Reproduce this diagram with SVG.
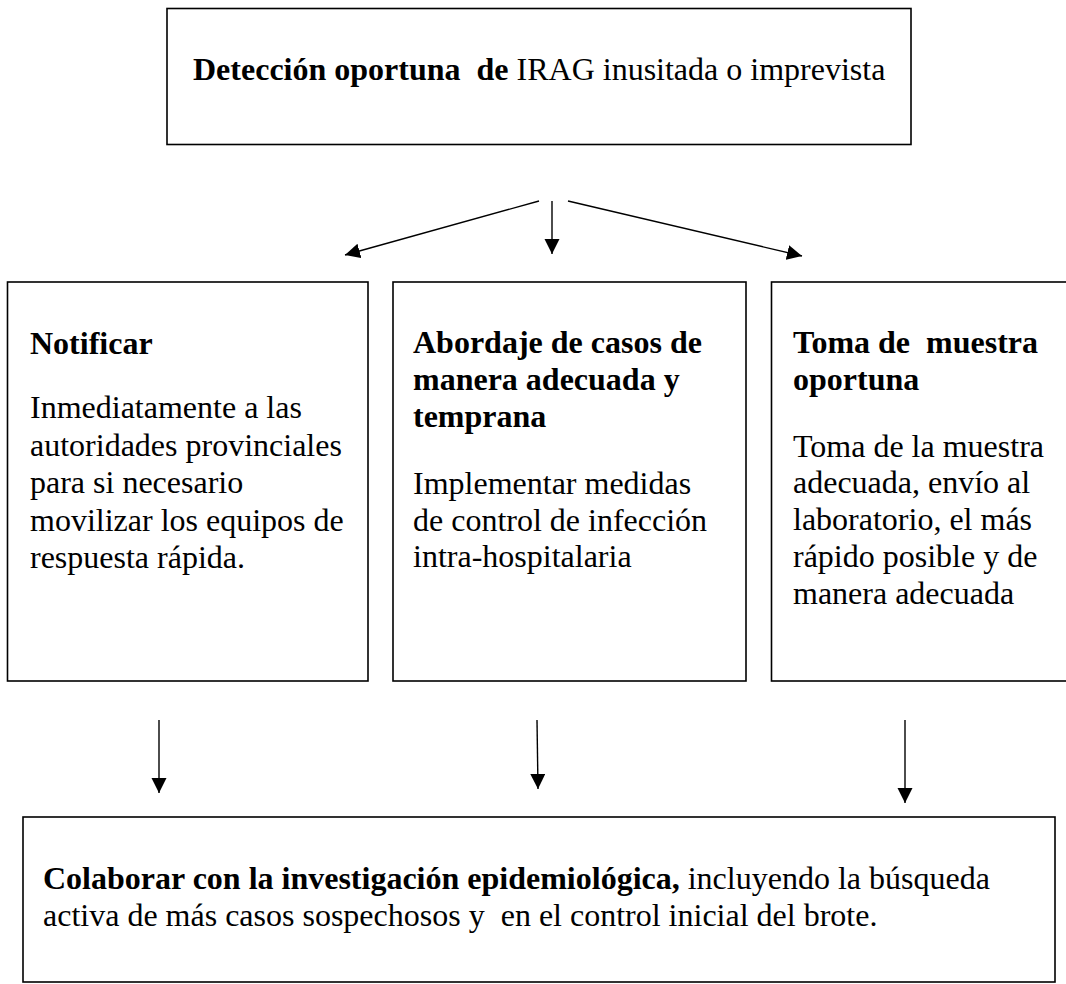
<svg xmlns="http://www.w3.org/2000/svg" width="1066" height="984" viewBox="0 0 1066 984">
<style>
.box{fill:#fff;stroke:#000;stroke-width:1.6}
.t{font-family:"Liberation Serif","Times New Roman",serif;font-size:32px;fill:#000;white-space:pre}
.b{font-weight:bold}
.c{stroke:#000;stroke-width:1.4;fill:none;marker-end:url(#ah)}
</style>
<defs>
<marker id="ah" markerUnits="userSpaceOnUse" markerWidth="16" markerHeight="16" viewBox="0 0 16 16" refX="15" refY="7.5" orient="auto">
<path d="M0,0 L15,7.5 L0,15 z" fill="#000"/>
</marker>
</defs>
<rect width="1066" height="984" fill="#fff"/>
<g id="n-deteccion">
<rect class="box" x="167" y="8.5" width="744" height="136"/>
<text class="t" x="193" y="80" xml:space="preserve"><tspan class="b">Detección oportuna  de </tspan>IRAG inusitada o imprevista</text>
</g>
<g id="n-notificar">
<rect class="box" x="7.5" y="282" width="360.5" height="399"/>
<text class="t b" x="30" y="354">Notificar</text>
<text class="t" x="30" y="418">Inmediatamente a las</text>
<text class="t" x="30" y="455.5">autoridades provinciales</text>
<text class="t" x="30" y="493">para si necesario</text>
<text class="t" x="30" y="531">movilizar los equipos de</text>
<text class="t" x="30" y="568">respuesta rápida.</text>
</g>
<g id="n-abordaje">
<rect class="box" x="393" y="282" width="353" height="399"/>
<text class="t b" x="413" y="353">Abordaje de casos de</text>
<text class="t b" x="413" y="390">manera adecuada y</text>
<text class="t b" x="413" y="427">temprana</text>
<text class="t" x="413" y="494">Implementar medidas</text>
<text class="t" x="413" y="531">de control de infección</text>
<text class="t" x="413" y="567">intra-hospitalaria</text>
</g>
<g id="n-muestra">
<rect class="box" x="771.5" y="282" width="400" height="399"/>
<text class="t b" x="793" y="353" xml:space="preserve">Toma de  muestra</text>
<text class="t b" x="793" y="390">oportuna</text>
<text class="t" x="793" y="457">Toma de la muestra</text>
<text class="t" x="793" y="493">adecuada, envío al</text>
<text class="t" x="793" y="530">laboratorio, el más</text>
<text class="t" x="793" y="567">rápido posible y de</text>
<text class="t" x="793" y="604">manera adecuada</text>
</g>
<g id="n-colaborar">
<rect class="box" x="23" y="817" width="1032" height="165"/>
<text class="t" x="43" y="889" xml:space="preserve"><tspan class="b">Colaborar con la investigación epidemiológica,</tspan> incluyendo la búsqueda</text>
<text class="t" x="43" y="926" xml:space="preserve">activa de más casos sospechosos y  en el control inicial del brote.</text>
</g>
<g id="connectors">
<line class="c" x1="539" y1="201" x2="345" y2="255"/>
<line class="c" x1="552" y1="201" x2="552" y2="254"/>
<line class="c" x1="568" y1="201" x2="802" y2="256"/>
<line class="c" x1="159" y1="720" x2="159" y2="793"/>
<line class="c" x1="537" y1="720" x2="538" y2="789"/>
<line class="c" x1="905" y1="720" x2="905" y2="803"/>
</g>
</svg>
